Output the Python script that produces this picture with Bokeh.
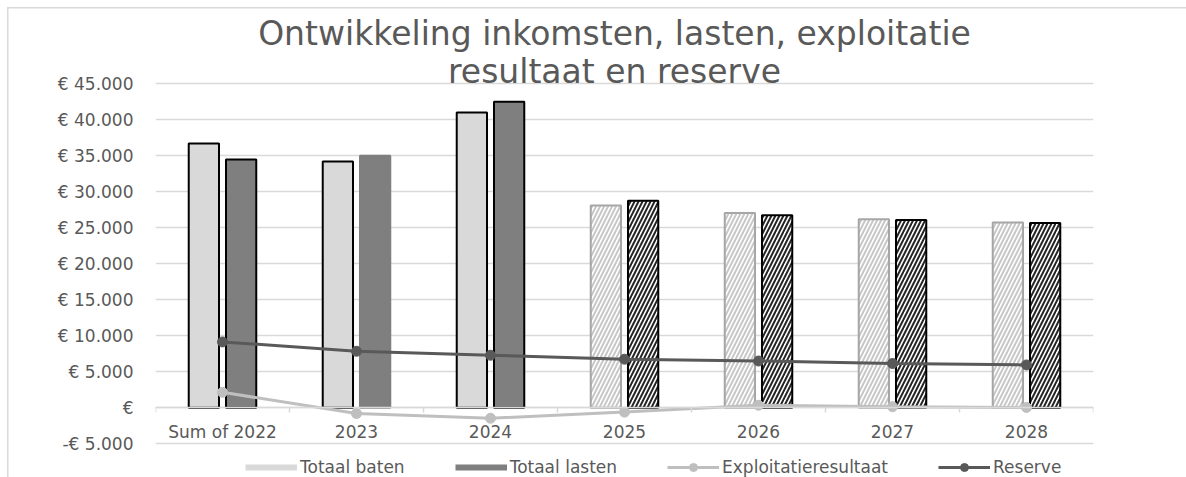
import math
from bokeh.plotting import figure
from bokeh.models import (Range1d, FixedTicker, LinearAxis, Label,
                          Legend, LegendItem, ColumnDataSource)
from bokeh.transform import dodge
from bokeh.embed import file_html
from bokeh.resources import INLINE

# ---- data ----
categories = ["Sum of 2022", "2023", "2024", "2025", "2026", "2027", "2028"]
totaal_baten = [36700, 34200, 41000, 28100, 27050, 26200, 25750]
totaal_lasten = [34500, 35000, 42500, 28750, 26750, 26100, 25650]
exploitatieresultaat = [2150, -800, -1450, -600, 350, 150, 50]
reserve = [9150, 7850, 7300, 6750, 6500, 6150, 5950]
n_actual = 3  # first three columns are realised, the rest forecast (hatched)
y_ticks = list(range(-5000, 45001, 5000))
title_lines = ["Ontwikkeling inkomsten, lasten, exploitatie", "resultaat en reserve"]
legend_labels = ["Totaal baten", "Totaal lasten", "Exploitatieresultaat", "Reserve"]

# ---- styles / layout ----
FONT = "DejaVu Sans"
TXT = "#595959"
GRID = "#d9d9d9"
C_BATEN = "#d9d9d9"
C_LASTEN = "#7f7f7f"
C_EXPL = "#bfbfbf"
C_RES = "#595959"
lasten_outline_actual = ["black", C_LASTEN, "black"]

W_PX, H_PX = 1186, 477
LEFT, RIGHT = 155, 93
TOP_GRID_PX, BOTTOM_GRID_PX = 83.3, 443.3   # pixel rows of the top / bottom gridline
px_per_unit = (BOTTOM_GRID_PX - TOP_GRID_PX) / (y_ticks[-1] - y_ticks[0])
y_end = y_ticks[-1] + TOP_GRID_PX / px_per_unit
y_start = y_end - H_PX / px_per_unit


def eur(v):
    if v == 0:
        return "€"
    s = f"{abs(v):,}".replace(",", ".")
    return ("-€ " if v < 0 else "€ ") + s


n = len(categories)
pos = list(range(n))  # category slots on the x scale

chart_border = {
    "background-image": "linear-gradient(#d9d9d9, #d9d9d9), linear-gradient(#d9d9d9, #d9d9d9)",
    "background-size": "100% 1.5px, 1.5px 100%",
    "background-position": "7px 7px, 7px 7px",
    "background-repeat": "no-repeat",
}

p = figure(width=W_PX, height=H_PX,
           x_range=Range1d(-0.5, n - 0.5),
           y_range=Range1d(y_start, y_end),
           output_backend="svg", toolbar_location=None,
           x_axis_location=None,
           min_border_left=LEFT, min_border_right=RIGHT, min_border_top=0, min_border_bottom=0,
           styles=chart_border)
p.outline_line_color = None
p.background_fill_alpha = 0
p.border_fill_alpha = 0
p.xgrid.grid_line_color = None
p.ygrid.grid_line_color = GRID
p.ygrid.grid_line_width = 1.3
p.ygrid.ticker = FixedTicker(ticks=y_ticks)

yax = p.yaxis[0]
yax.ticker = FixedTicker(ticks=y_ticks)
yax.major_label_overrides = {t: eur(t) for t in y_ticks}
yax.axis_line_color = None
yax.major_tick_line_color = None
yax.minor_tick_line_color = None
yax.major_label_standoff = 16
yax.major_label_text_font = FONT
yax.major_label_text_font_size = "17px"
yax.major_label_text_color = TXT

# category axis sitting on the zero line (labels at slot centres)
xax = LinearAxis(fixed_location=0, ticker=FixedTicker(ticks=pos),
                 major_label_overrides={i: c for i, c in zip(pos, categories)},
                 axis_line_color=GRID, axis_line_width=1.5,
                 major_tick_line_color=None, minor_tick_line_color=None,
                 major_label_standoff=8, major_label_text_font=FONT,
                 major_label_text_font_size="17px", major_label_text_color=TXT)
p.add_layout(xax, "below")

# tick marks between categories
edges = [i - 0.5 for i in range(n + 1)]
edge_ax = LinearAxis(fixed_location=0, ticker=FixedTicker(ticks=edges),
                     major_label_overrides={e: "" for e in edges},
                     axis_line_color=None, major_tick_line_color=GRID, major_tick_line_width=1.5,
                     major_tick_in=0, major_tick_out=5, minor_tick_line_color=None,
                     major_label_text_font_size="1px")
p.add_layout(edge_ax, "below")

OFF = 0.139
W = 0.226
src_a = ColumnDataSource(dict(x=pos[:n_actual], baten=totaal_baten[:n_actual],
                              lasten=totaal_lasten[:n_actual], lcol=lasten_outline_actual))
src_f = ColumnDataSource(dict(x=pos[n_actual:], baten=totaal_baten[n_actual:],
                              lasten=totaal_lasten[n_actual:]))

p.vbar(x=dodge("x", -OFF), top="baten", bottom=0, width=W, source=src_a,
       fill_color=C_BATEN, line_color="black", line_width=2)
p.vbar(x=dodge("x", OFF), top="lasten", bottom=0, width=W, source=src_a,
       fill_color=C_LASTEN, line_color="lcol", line_width=2)
p.vbar(x=dodge("x", -OFF), top="baten", bottom=0, width=W, source=src_f,
       fill_color="white", hatch_pattern="/", hatch_color="#c8c8c8", hatch_weight=2,
       hatch_scale=8, line_color="#a6a6a6", line_width=2)
p.vbar(x=dodge("x", OFF), top="lasten", bottom=0, width=W, source=src_f,
       fill_color="white", hatch_pattern="/", hatch_color="#262626", hatch_weight=2,
       hatch_scale=8, line_color="black", line_width=2)

src_l = ColumnDataSource(dict(x=pos, expl=exploitatieresultaat, res=reserve))
l_expl = p.line("x", "expl", source=src_l, line_color=C_EXPL, line_width=3)
m_expl = p.scatter("x", "expl", source=src_l, size=10, fill_color=C_EXPL, line_color=C_EXPL)
l_res = p.line("x", "res", source=src_l, line_color=C_RES, line_width=3)
m_res = p.scatter("x", "res", source=src_l, size=10, fill_color=C_RES, line_color=C_RES)

# flat swatches for the bar series in the legend (no visible data)
nan_src = ColumnDataSource(dict(x=pos, v=[math.nan] * n))
sw_baten = p.line("x", "v", source=nan_src, line_color=C_BATEN, line_width=6, line_cap="butt")
sw_lasten = p.line("x", "v", source=nan_src, line_color=C_LASTEN, line_width=6, line_cap="butt")

legend = Legend(items=[
    LegendItem(label=legend_labels[0], renderers=[sw_baten]),
    LegendItem(label=legend_labels[1], renderers=[sw_lasten]),
    LegendItem(label=legend_labels[2], renderers=[l_expl, m_expl]),
    LegendItem(label=legend_labels[3], renderers=[l_res, m_res]),
], orientation="horizontal", location=(90, 0), glyph_width=52, glyph_height=20,
    label_height=20, label_standoff=3, spacing=50, padding=0, margin=0,
    border_line_color=None, background_fill_alpha=0,
    label_text_font=FONT, label_text_font_size="17px", label_text_color=TXT)
p.add_layout(legend)

# two-line title (screen units relative to the plot frame)
for line, baseline_px in zip(title_lines, [33, 71]):
    p.add_layout(Label(x=614 - LEFT, y=H_PX - baseline_px, x_units="screen", y_units="screen",
                       text=line, text_align="center", text_baseline="alphabetic",
                       text_font=FONT, text_font_size="33px", text_color=TXT))

open("out.html", "w").write(file_html(p, INLINE))
